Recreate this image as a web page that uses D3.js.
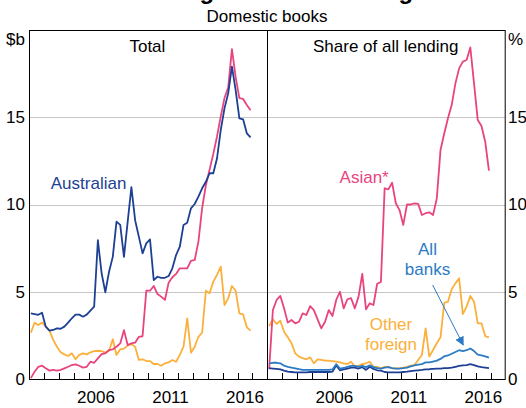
<!DOCTYPE html>
<html><head><meta charset="utf-8">
<script src="https://cdn.jsdelivr.net/npm/d3@7"></script>
<style>
html,body{margin:0;padding:0;background:#fff;}
svg text{font-family:"Liberation Sans",Arial,sans-serif;}
</style></head>
<body><svg id="c" width="526" height="408"></svg>
<script>
// ---- data (quarterly, starting 2002 Q1) ----
const startYear = 2002;
const yearTicks = [2003,2004,2005,2006,2007,2008,2009,2010,2011,2012,2013,2014,2015,2016,2017];
const yearLabels = [2006, 2011, 2016];
const yTickValues = [0, 5, 10, 15];
const gridValues = [5, 10, 15];

// Total, $b
const totalAustralian = [3.76,3.72,3.68,3.8,3.0,2.77,2.81,2.9,2.88,3.0,3.23,3.48,3.69,3.69,3.57,3.69,3.92,4.15,7.95,6.06,4.97,6.15,7.0,9.02,8.83,7.0,9.0,11.0,9.1,8.16,7.2,7.77,8.0,5.67,5.86,5.8,5.8,5.9,6.34,7.1,7.58,8.83,8.96,9.78,10.03,10.45,10.93,11.3,11.79,11.79,12.65,14.27,15.51,16.37,17.9,16.56,14.94,14.88,14.08,13.85];
const totalAsian = [0.05,0.42,0.7,0.76,0.61,0.48,0.52,0.48,0.52,0.61,0.7,0.8,0.84,0.76,0.65,0.7,0.99,0.93,1.18,1.43,1.47,1.66,1.7,1.85,2.04,2.8,1.95,2.04,2.08,2.42,2.45,5.06,5.06,5.33,4.87,4.72,4.53,5.52,5.83,6.02,6.34,6.34,6.34,6.77,6.82,7.87,9.8,11.1,12.0,12.9,13.9,15.05,16.1,16.7,18.9,17.3,16.1,16.05,15.7,15.4];
const totalOtherForeign = [2.65,3.23,3.09,3.24,3.0,2.77,2.24,1.85,1.53,1.41,1.32,1.47,1.13,1.38,1.47,1.41,1.53,1.6,1.62,1.6,1.51,1.62,2.28,1.38,1.7,1.74,1.91,1.99,1.85,1.09,1.13,1.03,1.03,0.86,0.86,0.76,0.9,0.95,1.09,0.99,1.38,1.85,3.47,1.51,1.85,2.42,2.65,5.06,4.91,5.58,5.96,6.44,4.24,4.62,5.33,5.06,3.76,3.7,2.96,2.77];

// Share of all lending, %
const shareAsian = [0.56,3.95,4.53,4.76,4.05,3.23,3.38,3.19,3.28,3.76,3.67,4.18,3.95,3.42,2.9,3.28,3.95,3.61,4.53,5.0,4.05,4.57,4.63,4.05,4.72,6.02,3.99,4.34,4.24,5.46,5.56,10.93,10.87,11.25,10.07,9.68,8.83,10.0,10.0,10.07,10.04,9.4,9.5,9.55,9.4,10.35,13.12,14.07,14.94,15.7,16.94,17.8,18.19,18.28,19.0,16.94,14.84,14.5,13.6,11.94];
const shareOtherForeign = [3.04,3.42,3.15,3.34,2.71,2.39,2.05,1.47,1.28,1.19,1.13,1.24,0.9,1.13,1.09,1.05,1.05,1.03,0.99,0.95,0.9,0.86,0.99,0.7,0.76,0.86,0.9,0.99,0.7,0.7,0.61,0.7,0.7,0.61,0.61,0.61,0.65,0.7,0.76,0.8,1.09,1.38,2.9,1.28,1.66,2.05,2.39,4.37,4.43,5.14,5.48,5.77,3.72,4.15,4.76,4.43,3.19,3.19,2.46,2.39];
const shareAllBanks = [0.9,0.93,0.93,0.9,0.76,0.7,0.65,0.61,0.56,0.52,0.52,0.52,0.52,0.52,0.52,0.52,0.52,0.55,0.85,0.6,0.63,0.7,0.75,0.75,0.7,0.75,0.68,0.78,0.68,0.62,0.6,0.65,0.68,0.62,0.6,0.6,0.62,0.65,0.72,0.78,0.82,0.85,0.95,0.95,1.0,1.05,1.15,1.3,1.35,1.45,1.55,1.65,1.6,1.65,1.75,1.6,1.4,1.35,1.3,1.22];
const shareAustralian = [0.62,0.6,0.58,0.55,0.48,0.42,0.4,0.38,0.38,0.38,0.38,0.4,0.4,0.4,0.4,0.4,0.4,0.42,0.78,0.5,0.55,0.6,0.65,0.65,0.6,0.68,0.52,0.7,0.58,0.5,0.48,0.4,0.38,0.38,0.38,0.38,0.4,0.42,0.45,0.48,0.5,0.52,0.55,0.56,0.58,0.6,0.6,0.62,0.62,0.65,0.7,0.75,0.78,0.8,0.85,0.8,0.72,0.68,0.65,0.62];

const colors = {aus:"#1d3f94", asian:"#e8447f", other:"#fbb03b", all:"#2b7bc4"};

// ---- layout ----
const svg = d3.select("#c");
const X0 = 29, X1 = 267.3, X2 = 505.7, YT = 30, YB = 379;
const y = d3.scaleLinear().domain([0,20]).range([YB, YT]);
const xL = d3.scaleLinear().domain([2002,2018]).range([X0, X1]);
const xR = d3.scaleLinear().domain([2002,2018]).range([X1, X2]);
const date = i => startYear + 0.125 + 0.25 * i;

// gridlines
svg.append("g").selectAll("line").data(gridValues).join("line")
  .attr("x1", X0).attr("x2", X2)
  .attr("y1", d => Math.round(y(d)) + 0.5).attr("y2", d => Math.round(y(d)) + 0.5)
  .attr("stroke", "#c6c6c6").attr("stroke-width", 1);

// ticks (inside, pointing up)
[xL, xR].forEach(xs => {
  svg.append("g").selectAll("line").data(yearTicks).join("line")
    .attr("x1", d => Math.round(xs(d)) + 0.5).attr("x2", d => Math.round(xs(d)) + 0.5)
    .attr("y1", YB).attr("y2", YB - 6)
    .attr("stroke", "#000").attr("stroke-width", 1);
  svg.append("g").selectAll("text").data(yearLabels).join("text")
    .attr("x", d => xs(d + 0.5)).attr("y", 403)
    .attr("text-anchor", "middle").attr("font-size", 17).text(d => d);
});

// lines
const line = (xs) => d3.line().x((d,i) => xs(date(i))).y(d => y(d));
function draw(data, xs, color){
  svg.append("path").datum(data).attr("d", line(xs))
    .attr("fill","none").attr("stroke",color).attr("stroke-width",1.8)
    .attr("stroke-linejoin","round");
}
draw(totalOtherForeign, xL, colors.other);
draw(totalAsian, xL, colors.asian);
draw(totalAustralian, xL, colors.aus);
draw(shareOtherForeign, xR, colors.other);
draw(shareAsian, xR, colors.asian);
draw(shareAustralian, xR, colors.aus);
draw(shareAllBanks, xR, colors.all);

// frame
svg.append("rect").attr("x", X0 + 0.5).attr("y", YT + 0.5)
  .attr("width", X2 - X0 - 1).attr("height", YB - YT)
  .attr("fill","none").attr("stroke","#000").attr("stroke-width",1);
svg.append("line").attr("x1", Math.round(X1)+0.5).attr("x2", Math.round(X1)+0.5)
  .attr("y1", YT).attr("y2", YB).attr("stroke","#000").attr("stroke-width",1);

// y labels
svg.append("g").selectAll("text").data(yTickValues).join("text")
  .attr("x", 25).attr("y", d => y(d)).attr("dy","0.35em")
  .attr("text-anchor","end").attr("font-size",17).text(d => d);
svg.append("g").selectAll("text").data(yTickValues).join("text")
  .attr("x", 508).attr("y", d => y(d)).attr("dy","0.35em")
  .attr("text-anchor","start").attr("font-size",17).text(d => d);
svg.append("text").attr("x",25).attr("y",y(19.5)).attr("dy","0.35em")
  .attr("text-anchor","end").attr("font-size",17).text("$b");
svg.append("text").attr("x",508).attr("y",y(19.5)).attr("dy","0.35em")
  .attr("text-anchor","start").attr("font-size",17).text("%");

// titles (main title is clipped by the top edge, as in the reference)
svg.append("text").attr("x",277).attr("y",-1).attr("text-anchor","middle")
  .attr("font-size",24).attr("font-weight","bold").text("Foreign Banks' Lending");
svg.append("text").attr("x",267).attr("y",22).attr("text-anchor","middle")
  .attr("font-size",17).text("Domestic books");
svg.append("text").attr("x",xL(2009.95)).attr("y",52).attr("text-anchor","middle")
  .attr("font-size",17).text("Total");
svg.append("text").attr("x",xR(2009.95)).attr("y",52).attr("text-anchor","middle")
  .attr("font-size",17).text("Share of all lending");

// series labels
svg.append("text").attr("x",xL(2006.0)).attr("y",189).attr("text-anchor","middle")
  .attr("font-size",17).attr("fill",colors.aus).text("Australian");
svg.append("text").attr("x",xR(2008.5)).attr("y",183).attr("text-anchor","middle")
  .attr("font-size",17).attr("fill",colors.asian).text("Asian*");
svg.append("text").attr("x",xR(2012.75)).attr("y",255).attr("text-anchor","middle")
  .attr("font-size",17).attr("fill",colors.all).text("All");
svg.append("text").attr("x",xR(2012.75)).attr("y",275).attr("text-anchor","middle")
  .attr("font-size",17).attr("fill",colors.all).text("banks");
svg.append("text").attr("x",xR(2010.3)).attr("y",330).attr("text-anchor","middle")
  .attr("font-size",17).attr("fill",colors.other).text("Other");
svg.append("text").attr("x",xR(2010.3)).attr("y",350).attr("text-anchor","middle")
  .attr("font-size",17).attr("fill",colors.other).text("foreign");

// arrow
svg.append("defs").append("marker").attr("id","ah")
  .attr("viewBox","0 0 10 10").attr("refX",9).attr("refY",5)
  .attr("markerWidth",9).attr("markerHeight",9).attr("markerUnits","userSpaceOnUse")
  .attr("orient","auto")
  .append("path").attr("d","M0,0L10,5L0,10Z").attr("fill",colors.all);
svg.append("line")
  .attr("x1", xR(2013.1)).attr("y1", 285)
  .attr("x2", xR(2015.15)).attr("y2", y(1.95))
  .attr("stroke",colors.all).attr("stroke-width",1)
  .attr("marker-end","url(#ah)");
</script></body></html>
